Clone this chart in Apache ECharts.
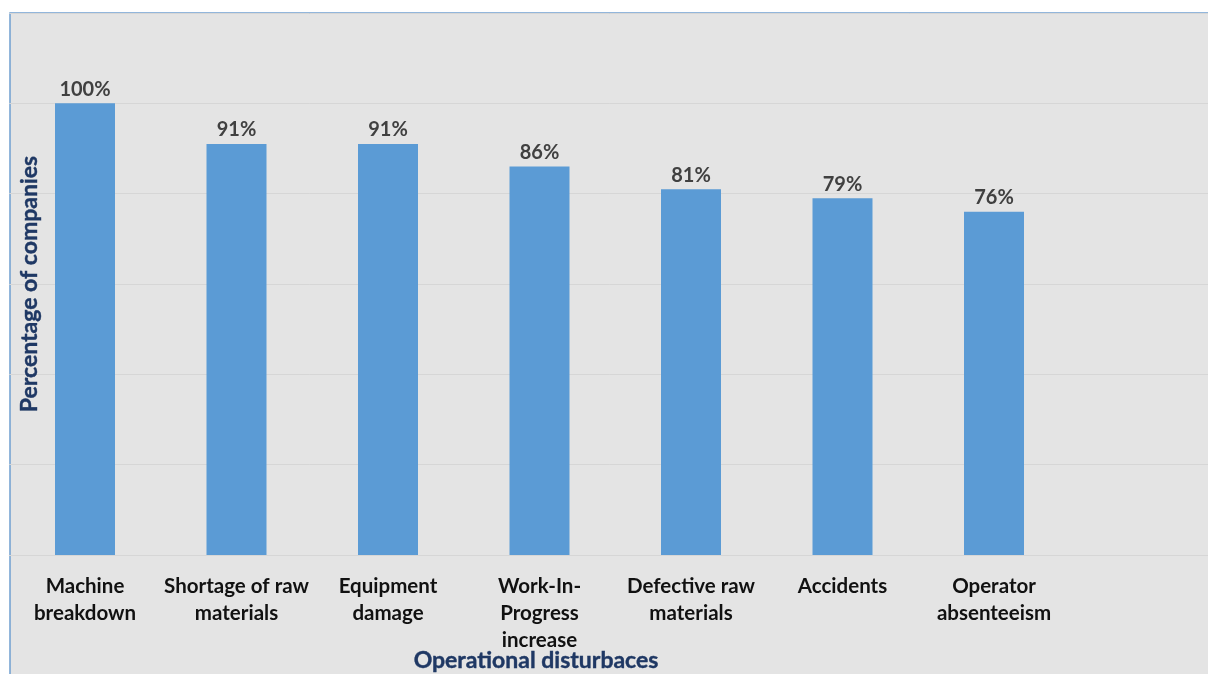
<!DOCTYPE html>
<html>
	<head>
		<meta charset="utf-8" />
		<title>Operational disturbaces</title>
		<script type="text/javascript" src="https://cdn.jsdelivr.net/npm/echarts@6/dist/echarts.min.js"></script>
		<style>
			html, body { margin: 0; padding: 0; background: #fff; }
			#chart { width: 1208px; height: 674px; }
		</style>
	</head>
	<body>
		<div id="chart"></div>
		<script type="text/javascript">
			// categories and values
			var categories = ['Machine\nbreakdown', 'Shortage of raw\nmaterials', 'Equipment\ndamage',
				'Work-In-\nProgress\nincrease', 'Defective raw\nmaterials', 'Accidents', 'Operator\nabsenteeism'];
			var percents = [100, 91, 91, 86, 81, 79, 76];
			var yTicks = [0, 20, 40, 60, 80, 100, 120];

			var font = 'Lato';

			// the plot runs past the right edge, one empty band is kept there
			var xData = categories.concat(['']);
			var yData = percents.concat(['-']);

			var myChart = echarts.init(document.getElementById('chart'));
			var option = {
				animation: false,
				backgroundColor: '#fff',
				grid: {
					left: 9.25,
					top: 13,
					width: 151.5 * xData.length,
					bottom: 119,
					outerBoundsMode: 'none',
					containLabel: false
				},
				graphic: [{
					type: 'text',
					x: 536,
					y: 661,
					z: 10,
					style: {
						text: 'Operational disturbaces',
						font: 'bold 23px Lato',
						fill: '#1f3864',
						stroke: '#1f3864',
						lineWidth: 0.4,
						textAlign: 'center',
						textVerticalAlign: 'middle'
					}
				}, {
					type: 'text',
					x: 30,
					y: 284,
					z: 10,
					rotation: Math.PI / 2,
					style: {
						text: 'Percentage of companies',
						font: 'bold 23px Lato',
						fill: '#1f3864',
						stroke: '#1f3864',
						lineWidth: 0.4,
						textAlign: 'center',
						textVerticalAlign: 'middle'
					}
				}, {
					type: 'rect',
					z: -10,
					shape: { x: 10, y: 13, width: 1230, height: 700 },
					style: { fill: '#e4e4e4', stroke: '#6f9fcf', lineWidth: 1.5 }
				}],
				xAxis: {
					type: 'category',
					data: xData,
					axisLine: { show: true, lineStyle: { color: '#d6d6d6' } },
					axisTick: { show: false },
					axisLabel: {
						interval: 0,
						margin: 18,
						color: '#111',
						fontWeight: 'bold',
						fontSize: 20.5,
						fontFamily: font,
						lineHeight: 27
					}
				},
				yAxis: {
					type: 'value',
					min: yTicks[0],
					max: yTicks[yTicks.length - 1],
					interval: 20,
					axisLine: { show: false },
					axisTick: { show: false },
					axisLabel: { show: false },
					splitLine: { lineStyle: { color: '#d6d6d6' } }
				},
				series: [{
					type: 'bar',
					data: yData,
					barWidth: 60,
					itemStyle: { color: '#5b9bd5' },
					label: {
						show: true,
						position: 'top',
						distance: 4,
						formatter: '{c}%',
						color: '#404040',
						fontWeight: 'bold',
						fontSize: 20,
						fontFamily: font
					}
				}]
			};
			myChart.setOption(option);
			window.onresize = myChart.resize;
		</script>
	</body>
</html>
